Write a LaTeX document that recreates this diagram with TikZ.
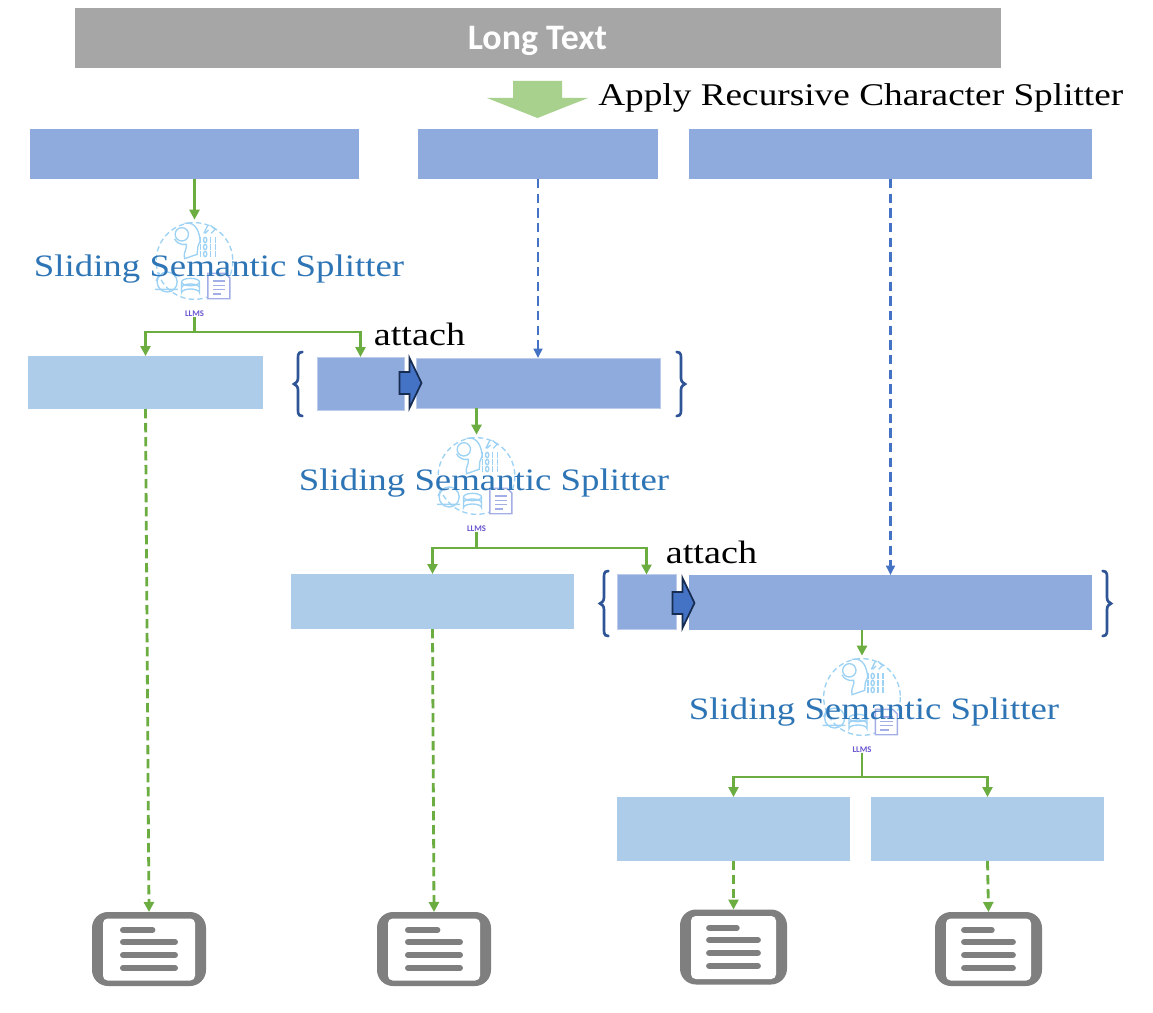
\documentclass[tikz,border=0pt]{standalone}
\usepackage{fontspec}
\setmainfont{Liberation Serif}
\newfontfamily\wideserif[FakeStretch=1.18]{Liberation Serif}
\newfontfamily\carlito{Carlito}
\usetikzlibrary{arrows.meta,calc}
\definecolor{topgray}{HTML}{A6A6A6}
\definecolor{chunkblue}{HTML}{8FAADC}
\definecolor{chunklight}{HTML}{ADCCE9}
\definecolor{linkgreen}{HTML}{6CAD42}
\definecolor{dashblue}{HTML}{4472C4}
\definecolor{bracecol}{HTML}{2F5597}
\definecolor{darknavy}{HTML}{172C51}
\definecolor{labelblue}{HTML}{2E75B6}
\definecolor{softgreen}{HTML}{A9D18E}
\definecolor{iconblue}{HTML}{9DD2F5}
\definecolor{iconpurple}{HTML}{A3AEE6}
\definecolor{llmspurple}{HTML}{6A55D0}
\definecolor{docgray}{HTML}{7F7F7F}
\tikzset{
  x=0.75pt,y=-0.75pt,
  boxbase/.style={rectangle,inner sep=0pt,outer sep=0pt},
  topbox/.style={boxbase,fill=topgray},
  chunk/.style={boxbase,fill=chunkblue},
  chunkb/.style={boxbase,fill=chunkblue,draw=chunkblue!60!white,line width=0.6pt},
  lightchunk/.style={boxbase,fill=chunklight},
  gline/.style={draw=linkgreen,line width=2.1pt},
  garrow/.style={gline,-{Triangle[length=7.5pt,width=7.5pt]}},
  gdash/.style={garrow,dash pattern=on 7pt off 3.5pt},
  bdash/.style={draw=dashblue,line width=2pt,dash pattern=on 7pt off 4pt,-{Triangle[length=7pt,width=6.5pt]}},
  splitlabel/.style={inner sep=0pt,text=labelblue,font=\wideserif\fontsize{23.4}{26}\selectfont},
  blacklabel/.style={inner sep=0pt,text=black,font=\wideserif\fontsize{23.7}{26}\selectfont},
  attachlabel/.style={inner sep=0pt,text=black,font=\wideserif\fontsize{24.3}{26}\selectfont},
  iconline/.style={draw=iconblue,line width=1pt,fill=none},
  docline/.style={draw=iconpurple,line width=1pt},
  braceline/.style={draw=bracecol,line width=2pt,line cap=round,fill=none},
  blockarrow/.style={fill=dashblue,draw=darknavy,line width=1.3pt,line join=miter},
}
% icon drawn around its centre; coordinates in 1/3 pixels
\newcommand{\llmsicon}[3]{%
  \node[boxbase,minimum size=62pt,circle] (#1) at (#2,#3) {};
  \node[inner sep=0pt,text=llmspurple,font=\carlito\bfseries\fontsize{6.5}{7}\selectfont] (#1l) at (#2,#3+52.5) {LLMS};
  \begin{scope}[shift={(#2,#3)},x=0.25pt,y=-0.25pt,shift={(-190,-155)}]
    \draw[iconblue,line width=1pt,dash pattern=on 4pt off 2.5pt] (190,155) circle[radius=115];
    \draw[iconline] (160,42) .. controls (195,35) and (205,70) .. (207,95) -- (200,112) -- (198,135) -- (160,148) .. controls (155,130) and (170,115) .. (165,105) .. controls (150,108) and (135,100) .. (130,88);
    \draw[iconline] (152,75) circle[radius=20];
    \draw[iconline] (218,72) -- (230,48) (232,62) -- (222,72) (238,48) -- (252,60) -- (240,72);
    \foreach \yy in {92,113,134}{
      \draw[iconline] (208,\yy-8)--(208,\yy+8) (253,\yy-8)--(253,\yy+8);
      \draw[iconline] (222,\yy) ellipse[x radius=5,y radius=8];
      \draw[iconline] (238,\yy-8)--(238,\yy+8);
    }
    \draw[iconline] (108,218) circle[radius=30];
    \draw[iconline] (72,240) -- (140,240) (85,190) -- (75,215);
    \draw[iconline] (178,218) ellipse[x radius=27,y radius=11];
    \draw[iconline] (151,218) -- (151,250) arc[start angle=180,end angle=360,x radius=27,y radius=11] -- (205,218);
    \draw[iconline] (151,235) arc[start angle=180,end angle=360,x radius=27,y radius=11];
    \draw[docline,fill=white] (230,192) -- (282,192) -- (296,206) -- (296,268) -- (230,268) -- cycle;
    \draw[docline] (245,215)--(282,215) (245,228)--(282,228) (245,241)--(282,241) (245,254)--(270,254);
  \end{scope}
}
% document icon
\newcommand{\docicon}[5]{%
  \node[boxbase,fill=docgray,rounded corners=12pt,minimum width=#4*0.75pt,minimum height=#5*0.75pt] (#1) at (#2,#3) {};
  \node[boxbase,fill=white,rounded corners=3.5pt,minimum width=(#4-22)*0.75pt,minimum height=(#5-12)*0.75pt] (#1i) at (#2,#3+0.5) {};
  \draw[docgray,line width=4.5pt,line cap=round]
    (#2-#4*0.228,#3-19) -- (#2+#4*0.03,#3-19)
    (#2-#4*0.228,#3-7) -- (#2+#4*0.228,#3-7)
    (#2-#4*0.228,#3+6) -- (#2+#4*0.228,#3+6)
    (#2-#4*0.228,#3+19) -- (#2+#4*0.228,#3+19);
}
% braces: x of the spine, tip side, top and bottom
\newcommand{\bracepath}[4]{%
  \path[braceline] (#1+#2*0.55,#3) .. controls (#1-#2*0.1,#3) and (#1,#3+4) .. (#1,#3+10)
    -- (#1,{(#3+#4)/2-6}) .. controls (#1,{(#3+#4)/2-2}) and (#1-#2*0.3,{(#3+#4)/2-1}) .. (#1-#2*0.5,{(#3+#4)/2})
    .. controls (#1-#2*0.3,{(#3+#4)/2+1}) and (#1,{(#3+#4)/2+2}) .. (#1,{(#3+#4)/2+6})
    -- (#1,#4-10) .. controls (#1,#4-4) and (#1-#2*0.1,#4) .. (#1+#2*0.55,#4);
}
\newcommand{\blockarr}[2]{%
  \draw[blockarrow] (#1,#2-11) -- (#1+10,#2-11) -- (#1+10,#2-25) -- (#1+22,#2) -- (#1+10,#2+25) -- (#1+10,#2+11) -- (#1,#2+11) -- cycle;
}
\begin{document}
\begin{tikzpicture}
\useasboundingbox[fill=white] (0,0) rectangle (1153,1013);

% top
\node[topbox,minimum width=694.5pt,minimum height=45pt] (top) at (538,38) {};
\node[inner sep=0pt,text=white,font=\carlito\bfseries\fontsize{26.9}{29}\selectfont] (toplabel) at (537.5,41) {Long Text};
\fill[softgreen] (513,81) -- (562,81) -- (562,98) -- (588,98) -- (537.5,118) -- (487,98) -- (513,98) -- cycle;
\node[blacklabel,anchor=west] (apply) at (598,98) {Apply Recursive Character Splitter};

% first row
\node[chunk,minimum width=246.75pt,minimum height=37.5pt] (a1) at (194.5,154) {};
\node[chunk,minimum width=180pt,minimum height=37.5pt] (a2) at (538,154) {};
\node[chunk,minimum width=302.25pt,minimum height=37.5pt] (a3) at (890.5,154) {};

% icons
\llmsicon{ic1}{194.5}{261}
\llmsicon{ic2}{476.5}{476}
\llmsicon{ic3}{862}{697}
\node[splitlabel] (s1) at (219,269) {Sliding Semantic Splitter};
\node[splitlabel] (s2) at (484,483) {Sliding Semantic Splitter};
\node[splitlabel] (s3) at (874,712) {Sliding Semantic Splitter};

% second row
\node[lightchunk,minimum width=176.25pt,minimum height=39.75pt] (l1) at (145.5,382.5) {};
\node[chunkb,minimum width=65.25pt,minimum height=39.75pt] (b1) at (360.5,383.5) {};
\node[chunkb,minimum width=183pt,minimum height=37.5pt] (b2) at (538,383) {};
\bracepath{298}{8}{352}{416}
\bracepath{681}{-8}{352}{416}
\blockarr{399.5}{383}

% third row
\node[lightchunk,minimum width=212.25pt,minimum height=41.25pt] (l2) at (432.5,601.5) {};
\node[chunkb,minimum width=44.25pt,minimum height=41.25pt] (c1) at (646.5,602) {};
\node[chunk,minimum width=302.25pt,minimum height=41.25pt] (c2) at (890.5,602.5) {};
\bracepath{604}{8}{571}{636}
\bracepath{1107}{-8}{571}{636}
\blockarr{672.5}{603}

% fourth row
\node[lightchunk,minimum width=174.75pt,minimum height=48pt] (l3) at (733.5,829) {};
\node[lightchunk,minimum width=174.75pt,minimum height=48pt] (l4) at (987.5,829) {};

% documents
\docicon{d1}{149}{949}{114}{74}
\docicon{d2}{434}{949}{114}{74}
\docicon{d3}{733.5}{947}{107}{75}
\docicon{d4}{988.5}{949}{107}{74}

% attach labels
\node[attachlabel] (at1) at (419.5,334) {attach};
\node[attachlabel] (at2) at (711.5,552) {attach};

% connectors
\draw[garrow] (a1.south) -- (a1.south |- ic1.north);
\coordinate (j1) at (ic1l.south |- 0,332);
\draw[gline] (ic1l.south) -- (j1);
\draw[garrow] (j1) -| (l1.north);
\draw[garrow] (j1) -| (b1.north);

\draw[bdash] (a2.south) -- (b2.north);
\draw[bdash] (a3.south) -- (c2.north);

\draw[garrow] (b2.south -| ic2.center) -- (ic2.north);
\coordinate (j2) at (ic2l.south |- 0,548);
\draw[gline] (ic2l.south) -- (j2);
\draw[garrow] (j2) -| (l2.north);
\draw[garrow] (j2) -| (c1.north);

\draw[garrow] (c2.south -| ic3.center) -- (ic3.north);
\coordinate (j3) at (ic3l.south |- 0,777);
\draw[gline] (ic3l.south) -- (j3);
\draw[garrow] (j3) -| (l3.north);
\draw[garrow] (j3) -| (l4.north);

\draw[gdash] (l1.south) -- (d1.north);
\draw[gdash] (l2.south) -- (d2.north);
\draw[gdash] (l3.south) -- (d3.north);
\draw[gdash] (l4.south) -- (d4.north);
\end{tikzpicture}
\end{document}
